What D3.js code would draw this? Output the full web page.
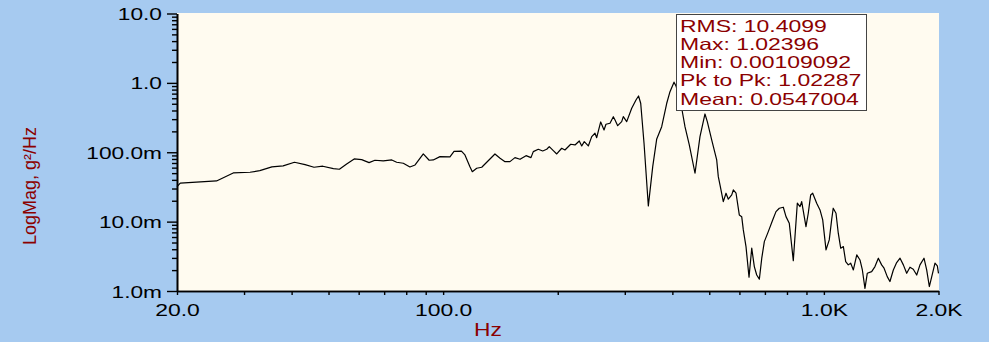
<!DOCTYPE html>
<html>
<head>
<meta charset="utf-8">
<script src="https://cdn.jsdelivr.net/npm/d3@7"></script>
<style>
  body { margin: 0; background: #A6CAF0; }
  svg { display: block; font-family: "Liberation Sans", Arial, sans-serif; }
</style>
</head>
<body>
<svg id="chart" width="989" height="342"></svg>
<script>
/**************************************** DATOS **********************************/
var freqs = [20, 20.4, 25.4, 28.1, 31.1, 33.0, 35.5, 38.0, 40.7, 43.4, 45.8, 48.3, 51.5, 53.4, 55.8, 58.4, 61.1, 63.9, 66.2, 69.6,
  73.3, 75.5, 78.6, 81.8, 84.4, 88.7, 91.9, 94.2, 98.1, 104.2, 106.8, 111.7, 114.1, 117.6, 119.3, 122.5, 126.3, 136.8, 141.1, 145.4,
  149.8, 154.4, 159.2, 165.1, 170.1, 172.5, 177.8, 182.6, 187.1, 190.0, 194.7, 198.8, 204.8, 208.9, 216.3, 222.0, 227.8, 231.2, 234.8, 240.6,
  245.6, 250.5, 253.1, 259.3, 264.6, 267.7, 274.3, 279.9, 282.8, 287.4, 294.4, 297.3, 303.5, 312.8, 321.0, 326.0, 330.3, 337.0, 345.9, 355.2,
  363.9, 375.0, 386.6, 394.3, 404.0, 408.9, 414.6, 423.3, 431.7, 443.1, 458.7, 472.7, 487.2, 494.1, 507.4, 523.0, 528.1, 533.5, 544.3, 553.3,
  561.0, 572.8, 578.3, 587.9, 599.6, 608.4, 614.3, 624.4, 635.9, 646.4, 656.6, 666.2, 676.9, 686.8, 697.6, 714.5, 733.7, 748.5, 763.7, 782.4,
  795.3, 811.2, 831.1, 851.6, 865.6, 874.4, 897.4, 909.9, 923.2, 934.5, 957.4, 976.8, 992.9, 1013, 1033, 1048, 1058, 1076, 1091, 1107,
  1125, 1141, 1159, 1176, 1195, 1220, 1244, 1262, 1282, 1300, 1335, 1362, 1390, 1418, 1439, 1467, 1491, 1522, 1553, 1585,
  1617, 1650, 1683, 1717, 1753, 1788, 1832, 1862, 1892, 1920, 1958, 1986, 2000];

var mags = [0.0319, 0.0358, 0.0386, 0.0503, 0.0515, 0.0543, 0.0614, 0.0635, 0.0718, 0.0663, 0.0608, 0.0629, 0.0580, 0.0569, 0.0678, 0.0801, 0.0782, 0.0708, 0.0767, 0.0749,
  0.0774, 0.0718, 0.0694, 0.0614, 0.0656, 0.0945, 0.0767, 0.0775, 0.0864, 0.0856, 0.1027, 0.1037, 0.0914, 0.0620, 0.0525, 0.0588, 0.0608, 0.0945, 0.0819, 0.0732,
  0.0732, 0.0836, 0.0792, 0.0893, 0.0836, 0.102, 0.1104, 0.1044, 0.1104, 0.1204, 0.1055, 0.0945, 0.1142, 0.1079, 0.1304, 0.1274, 0.1455, 0.1232, 0.1421, 0.1232,
  0.1678, 0.1879, 0.1623, 0.2733, 0.2097, 0.2532, 0.2618, 0.3258, 0.2920, 0.2416, 0.276, 0.3258, 0.276, 0.4305, 0.567, 0.6475, 0.5083, 0.1348, 0.01684, 0.062,
  0.1555, 0.2338, 0.5083, 0.7466, 1.024, 0.902, 0.708, 0.4305, 0.2338, 0.1274, 0.0498, 0.1678, 0.3563, 0.276, 0.1504, 0.0774, 0.0445, 0.0338, 0.0194, 0.02566,
  0.02102, 0.02425, 0.02862, 0.02566, 0.01249, 0.0118, 0.0076, 0.00436, 0.00158, 0.00414, 0.00225, 0.0017, 0.00148, 0.00297, 0.00515, 0.00718, 0.01058, 0.01393, 0.0156, 0.01613,
  0.0118, 0.00948, 0.00274, 0.01842, 0.01645, 0.0194, 0.00847, 0.01321, 0.02425, 0.02566, 0.01842, 0.01474, 0.01058, 0.00391, 0.00545, 0.01058, 0.0156, 0.01321, 0.00681, 0.00414,
  0.00436, 0.00265, 0.00238, 0.00252, 0.00201, 0.00331, 0.0028, 0.00201, 0.00109, 0.0018, 0.0019, 0.00225, 0.00297, 0.00238, 0.00213, 0.00161, 0.00137, 0.00201, 0.00257, 0.00297,
  0.00238, 0.0018, 0.0022, 0.00206, 0.0017, 0.00238, 0.00297, 0.00201, 0.00116, 0.00161, 0.00252, 0.0023, 0.0018];

var yTickValues = [10, 1, 0.1, 0.01, 0.001];
var yTickLabels = ["10.0", "1.0", "100.0m", "10.0m", "1.0m"];
var xTickValues = [20, 100, 1000, 2000];
var xTickLabels = ["20.0", "100.0", "1.0K", "2.0K"];

var statLines = ["RMS: 10.4099", "Max: 1.02396", "Min: 0.00109092", "Pk to Pk: 1.02287", "Mean: 0.0547004"];

/**************************************** CANVAS **********************************/
var svg = d3.select("#chart");
var plotLeft = 177, plotRight = 939, plotTop = 13, plotBottom = 291;
var red = "#8B0000";

var x = d3.scaleLog().domain([20, 2000]).range([plotLeft, 938.5]);
var y = d3.scaleLog().domain([0.001, 10]).range([plotBottom, 13.5]);

// fondo azul y area de trazado crema
svg.append("rect").attr("width", 989).attr("height", 342).attr("fill", "#A6CAF0");
svg.append("rect")
  .attr("x", plotLeft).attr("y", plotTop)
  .attr("width", plotRight - plotLeft).attr("height", plotBottom - plotTop)
  .attr("fill", "#FFFBF0");

/**************************************** EJES **********************************/
var yMinor = [];
[0.001, 0.01, 0.1, 1].forEach(function(d) {
  for (var k = 2; k <= 9; k++) yMinor.push(d * k);
});
var xMinor = [30, 40, 50, 60, 70, 80, 90, 200, 300, 400, 500, 600, 700, 800, 900];

function styleAxis(g) {
  g.selectAll("path").attr("stroke", "#000").attr("stroke-width", 1.6);
  g.selectAll("line").attr("stroke", "#000").attr("stroke-width", 1.4);
}

// ticks menores
svg.append("g")
  .attr("transform", "translate(" + plotLeft + ",0)")
  .call(d3.axisLeft(y).tickValues(yMinor).tickSize(5).tickSizeOuter(0).tickFormat(""))
  .call(styleAxis);

svg.append("g")
  .attr("transform", "translate(0," + plotBottom + ")")
  .call(d3.axisBottom(x).tickValues(xMinor).tickSize(4).tickSizeOuter(0).tickFormat(""))
  .call(styleAxis);

// ticks mayores con etiquetas
var yAxis = svg.append("g")
  .attr("transform", "translate(" + plotLeft + ",0)")
  .call(d3.axisLeft(y).tickValues(yTickValues).tickSize(10).tickSizeOuter(0)
    .tickFormat(function(d, i) { return yTickLabels[i]; }))
  .call(styleAxis);

yAxis.selectAll("text")
  .attr("x", null).attr("dy", null)
  .attr("transform", "translate(-15,6) scale(1.42,1)")
  .attr("font-size", 16)
  .attr("font-family", "Liberation Sans, Arial, sans-serif")
  .attr("fill", "#000");

var xAxis = svg.append("g")
  .attr("transform", "translate(0," + plotBottom + ")")
  .call(d3.axisBottom(x).tickValues(xTickValues).tickSize(4).tickSizeOuter(0)
    .tickFormat(function(d, i) { return xTickLabels[i]; }))
  .call(styleAxis);

xAxis.selectAll("text")
  .attr("y", null).attr("dy", null)
  .attr("transform", "translate(0,25) scale(1.35,1)")
  .attr("font-size", 17)
  .attr("font-family", "Liberation Sans, Arial, sans-serif")
  .attr("fill", "#000");

// titulos de los ejes
svg.append("text")
  .attr("transform", "translate(488,336) scale(1.2,1)")
  .attr("text-anchor", "middle")
  .attr("font-size", 19)
  .attr("fill", red)
  .text("Hz");

svg.append("text")
  .attr("transform", "translate(36,186) rotate(-90)")
  .attr("text-anchor", "middle")
  .attr("font-size", 18)
  .attr("fill", red)
  .text("LogMag, g²/Hz");

/**************************************** LINEA **********************************/
var points = freqs.map(function(f, i) { return [f, mags[i]]; });

var line = d3.line()
  .x(function(d) { return x(d[0]); })
  .y(function(d) { return y(d[1]); });

svg.append("path")
  .datum(points)
  .attr("d", line)
  .attr("fill", "none")
  .attr("stroke", "#000")
  .attr("stroke-width", 1.2)
  .attr("stroke-linejoin", "round");

/**************************************** CAJA DE ESTADISTICAS **********************************/
var box = svg.append("g").attr("transform", "translate(676,14)");
box.append("rect")
  .attr("x", 0.5).attr("y", 0.5)
  .attr("width", 190).attr("height", 96)
  .attr("fill", "#fff")
  .attr("stroke", "#444")
  .attr("stroke-width", 1);

box.selectAll("text")
  .data(statLines)
  .enter().append("text")
  .attr("transform", function(d, i) { return "translate(4," + (17.5 + i * 18.3) + ") scale(1.41,1)"; })
  .attr("font-size", 16.3)
  .attr("fill", red)
  .text(function(d) { return d; });
</script>
</body>
</html>
